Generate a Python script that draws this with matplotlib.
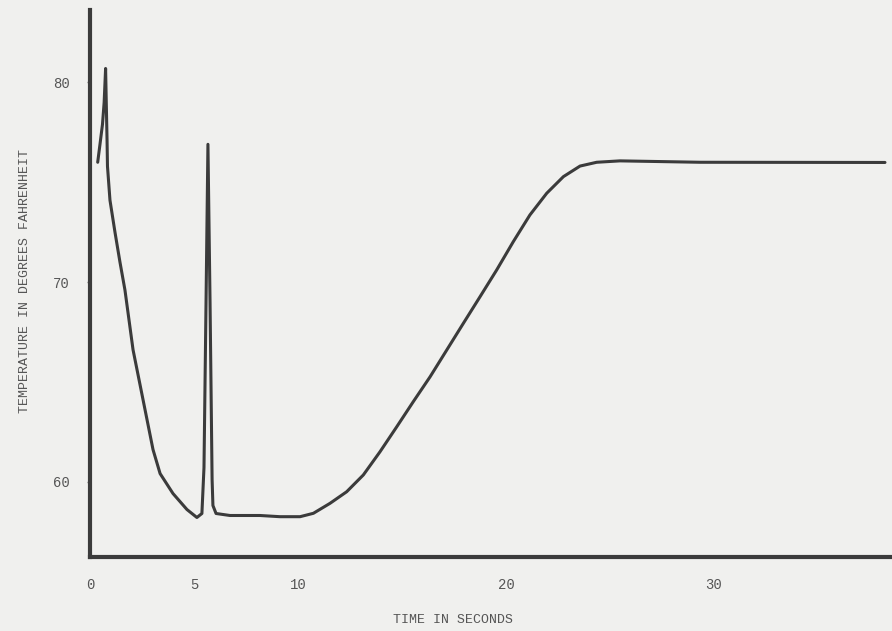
import matplotlib
matplotlib.use("Agg")
import matplotlib.pyplot as plt

# ---- data ----
time_s = [0.37, 0.48, 0.60, 0.68, 0.75, 0.78, 0.82, 0.84, 0.96, 1.20, 1.44, 1.68,
          2.07, 2.55, 3.03, 3.37, 3.99, 4.66, 5.14, 5.38, 5.48, 5.58, 5.67, 5.77,
          5.87, 5.91, 6.06, 6.73, 8.17, 9.13, 10.10, 10.74, 11.54, 12.34, 13.14,
          13.94, 14.75, 15.54, 16.35, 17.15, 17.95, 18.75, 19.55, 20.35, 21.15,
          21.96, 22.76, 23.56, 24.36, 25.48, 29.33, 38.22]
temp_f = [76.0, 76.9, 77.9, 79.0, 80.7, 79.1, 77.1, 75.8, 74.1, 72.5, 71.0, 69.6,
          66.6, 64.1, 61.6, 60.4, 59.4, 58.6, 58.2, 58.4, 60.7, 69.1, 76.9, 69.1,
          60.1, 58.8, 58.4, 58.3, 58.3, 58.24, 58.24, 58.41, 58.91, 59.49, 60.33,
          61.49, 62.75, 64.00, 65.25, 66.59, 67.93, 69.26, 70.60, 72.02, 73.36,
          74.45, 75.28, 75.81, 76.00, 76.07, 76.0, 75.99]

x_ticks = [0, 5, 10, 20, 30]
x_tick_labels = ["0", "5", "10", "20", "30"]
y_ticks = [60, 70, 80]
y_tick_labels = ["60", "70", "80"]

x_label = "TIME IN SECONDS"
y_label = "TEMPERATURE IN DEGREES FAHRENHEIT"

W, H = 892, 631
BG = "#f0f0ee"
INK = "#3b3b3b"

fig = plt.figure(figsize=(W / 100, H / 100), dpi=100, facecolor=BG)
ax = fig.add_axes([90 / W, (H - 557) / H, (W - 90) / W, (557 - 10) / H])
ax.patch.set_visible(False)

ax.plot(time_s, temp_f, color=INK, lw=2.2, solid_joinstyle="round",
        solid_capstyle="round", zorder=3)

ax.set_xlim(0, (W - 90) / 20.8)
ax.set_ylim(56.22, 83.63)

for s in ["top", "right"]:
    ax.spines[s].set_visible(False)
for s in ["left", "bottom"]:
    ax.spines[s].set_linewidth(3.0)
    ax.spines[s].set_color(INK)

ax.set_xticks(x_ticks)
ax.set_xticklabels(x_tick_labels)
ax.set_yticks(y_ticks)
ax.set_yticklabels(y_tick_labels)
ax.tick_params(axis="x", length=0, pad=15, labelsize=10, labelcolor="#555555")
ax.tick_params(axis="y", length=2.5, width=1, color="#777777", pad=12,
               labelsize=10, labelcolor="#555555")
for lab in ax.get_xticklabels() + ax.get_yticklabels():
    lab.set_family("Liberation Mono")

ax.set_xlabel(x_label, family="Liberation Mono", fontsize=9.5, color="#555555")
ax.set_ylabel(y_label, family="Liberation Mono", fontsize=9.5, color="#555555")
ax.xaxis.set_label_coords((453 - 90) / 802, (557 - 614) / 547)
ax.yaxis.set_label_coords((31 - 90) / 802, (557 - 281) / 547)

fig.savefig("out.png", dpi=100, facecolor=BG)
